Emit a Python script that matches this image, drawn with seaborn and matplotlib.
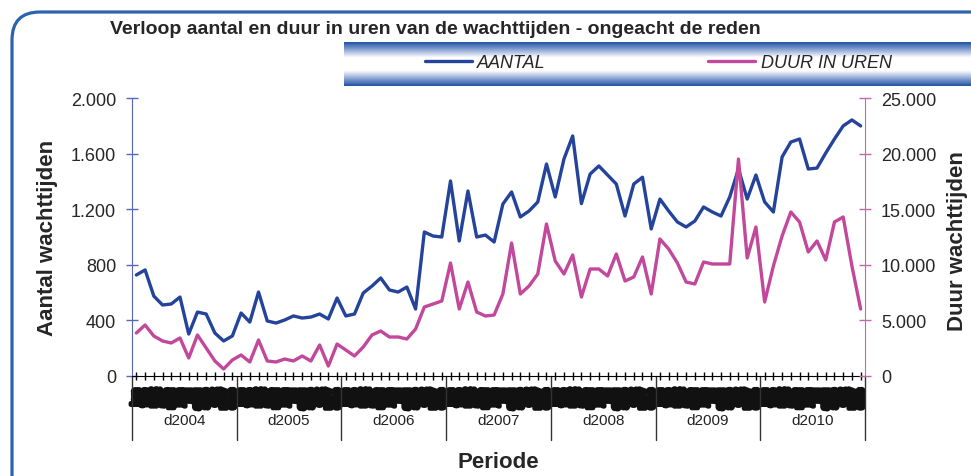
import numpy as np
import pandas as pd
import matplotlib
matplotlib.use("Agg")
import matplotlib.pyplot as plt
import matplotlib.transforms as mtransforms
import matplotlib.patheffects as pe
from matplotlib.patches import FancyBboxPatch
from matplotlib.colors import LinearSegmentedColormap
from matplotlib.ticker import FuncFormatter
import seaborn as sns

# Data (monthly)
jaren = [2004, 2005, 2006, 2007, 2008, 2009, 2010]
maanden = ["jan", "feb", "mrt", "apr", "mei", "jun", "jul", "aug", "sep", "okt", "nov", "dec"]

aantal = [
    727, 763, 575, 511, 518, 568, 302, 460, 446, 309, 252, 288,
    453, 388, 604, 396, 381, 403, 432, 417, 424, 446, 410, 561,
    432, 446, 597, 647, 705, 619, 604, 640, 482, 1036, 1007, 1000,
    1403, 971, 1331, 1000, 1014, 964, 1237, 1324, 1144, 1187, 1252, 1525,
    1288, 1561, 1727, 1240, 1453, 1511, 1446, 1381, 1151, 1381, 1430, 1058,
    1273, 1187, 1108, 1072, 1115, 1216, 1180, 1151, 1288, 1490, 1273, 1446,
    1252, 1180, 1576, 1683, 1705, 1489, 1496, 1604, 1705, 1799, 1842, 1799,
]
duur_uren = [
    3867, 4586, 3597, 3148, 2968, 3417, 1619, 3687, 2518, 1349, 630, 1439,
    1889, 1259, 3237, 1349, 1259, 1529, 1349, 1799, 1349, 2788, 899, 2878,
    2338, 1799, 2608, 3687, 4047, 3507, 3507, 3327, 4227, 6205, 6475, 6745,
    10162, 6025, 8453, 5755, 5396, 5486, 7374, 11961, 7374, 8094, 9173, 13669,
    10342, 9173, 10882, 7104, 9622, 9622, 8993, 10971, 8543, 8903, 10702, 7374,
    12320, 11421, 10162, 8453, 8274, 10252, 10072, 10072, 10072, 19515, 10612, 13400,
    6655, 9892, 12590, 14749, 13849, 11151, 12140, 10432, 13849, 14299, 9892, 6025,
]

periode = [m for j in jaren for m in maanden]
df = pd.DataFrame({"nr": np.arange(len(periode)), "aantal": aantal, "duur": duur_uren})

blauw = "#24439a"
roze = "#c2489c"

sns.set_style("white")
plt.rcParams['font.family'] = ['Liberation Sans', 'DejaVu Sans']

fig = plt.figure(figsize=(9.71, 4.77), dpi=100)
ax = fig.add_axes([132 / 971, 1 - 377 / 477, (865 - 132) / 971, (377 - 99) / 477])
ax2 = ax.twinx()

sns.lineplot(data=df, x="nr", y="aantal", ax=ax, color=blauw, linewidth=2.4,
             label="AANTAL", legend=False)
sns.lineplot(data=df, x="nr", y="duur", ax=ax2, color=roze, linewidth=2.4,
             label="DUUR IN UREN", legend=False)
for ln in ax.get_lines() + ax2.get_lines():
    ln.set_solid_joinstyle('round')
    ln.set_solid_capstyle('round')

# y axes
ax.set_ylim(0, 2000)
ax.set_yticks(range(0, 2001, 400))
ax2.set_ylim(0, 25000)
ax2.set_yticks(range(0, 25001, 5000))
fmt = FuncFormatter(lambda v, p: f"{int(v):,}".replace(",", "."))
ax.yaxis.set_major_formatter(fmt)
ax2.yaxis.set_major_formatter(fmt)

ax.tick_params(axis='y', direction='inout', length=9, width=1, color='#5566bb',
               labelsize=13, pad=7, left=True)
ax2.tick_params(axis='y', direction='inout', length=9, width=1, color='#c766a8',
                labelsize=13, pad=7, right=True)

for s in ['top', 'right']:
    ax.spines[s].set_visible(False)
ax.spines['left'].set_color('#5566bb')
ax.spines['bottom'].set_color('black')
for s in ['top', 'left', 'bottom']:
    ax2.spines[s].set_visible(False)
ax2.spines['right'].set_color('#c766a8')

ax.set_ylabel("Aantal wachttijden", fontsize=16, fontweight='bold')
ax.yaxis.set_label_coords((58 - 132) / 733, 0.5)
ax2.set_ylabel("Duur wachttijden", fontsize=16, fontweight='bold', rotation=90)
ax2.yaxis.set_label_coords((947 - 132) / 733, 0.49)

# x axis: month labels (dense) + year groups
ax.set_xlim(-0.5, len(periode) - 0.5)
ax.set_xticks(df["nr"])
ax.set_xticklabels(periode, rotation=90, fontsize=8.5, fontweight='bold', color='#111111')
for t in ax.get_xticklabels():
    t.set_path_effects([pe.withStroke(linewidth=3.2, foreground='#111111')])
ax.tick_params(axis='x', direction='inout', length=6, width=1, color='black',
               pad=6, bottom=True)
ax.set_xlabel("")

trans = mtransforms.blended_transform_factory(ax.transData, ax.transAxes)
for k in range(len(jaren) + 1):
    ax.plot([12 * k - 0.5] * 2, [0, -64 / 278], transform=trans, color='#333333',
            lw=1, clip_on=False)
for k, j in enumerate(jaren):
    ax.text(12 * k + 5.5, (377 - 421) / 278, f"d{j}", transform=trans,
            ha='center', va='center', fontsize=11, color='#222222')

fig.text(498 / 971, 1 - 463 / 477, "Periode", ha='center', va='center',
         fontsize=16, fontweight='bold')

# title
fig.text(435 / 971, 1 - 30 / 477,
         "Verloop aantal en duur in uren van de wachttijden - ongeacht de reden",
         ha='center', va='center', fontsize=14, fontweight='bold')

# legend band with gradient
band = fig.add_axes([344 / 971, 1 - 87 / 477, 627 / 971, 44 / 477])
cmap = LinearSegmentedColormap.from_list(
    "band", [(0, "#1f55a0"), (0.1, "#5f82c2"), (0.35, "#ffffff"),
             (0.65, "#ffffff"), (0.9, "#5f82c2"), (1, "#1f55a0")])
band.imshow(np.linspace(0, 1, 200).reshape(-1, 1), aspect='auto', cmap=cmap)
band.axis('off')

h1 = ax.get_lines()[0]
h2 = ax2.get_lines()[0]
fig.legend([h1, h2], ["AANTAL", "DUUR IN UREN"], loc='center left',
           bbox_to_anchor=(425 / 971, 1 - 64 / 477), ncol=2, frameon=False,
           prop={'size': 13, 'style': 'italic'}, handlelength=2.6,
           handletextpad=0.3, columnspacing=9.0, borderpad=0, borderaxespad=0)

# rounded frame
frame = FancyBboxPatch((0.12, -0.3), 9.9, 4.94, boxstyle="round,pad=0,rounding_size=0.28",
                       transform=fig.dpi_scale_trans, fill=False, ec='#2b63ae', lw=2.3)
fig.add_artist(frame)

fig.savefig("out.png", dpi=100)
